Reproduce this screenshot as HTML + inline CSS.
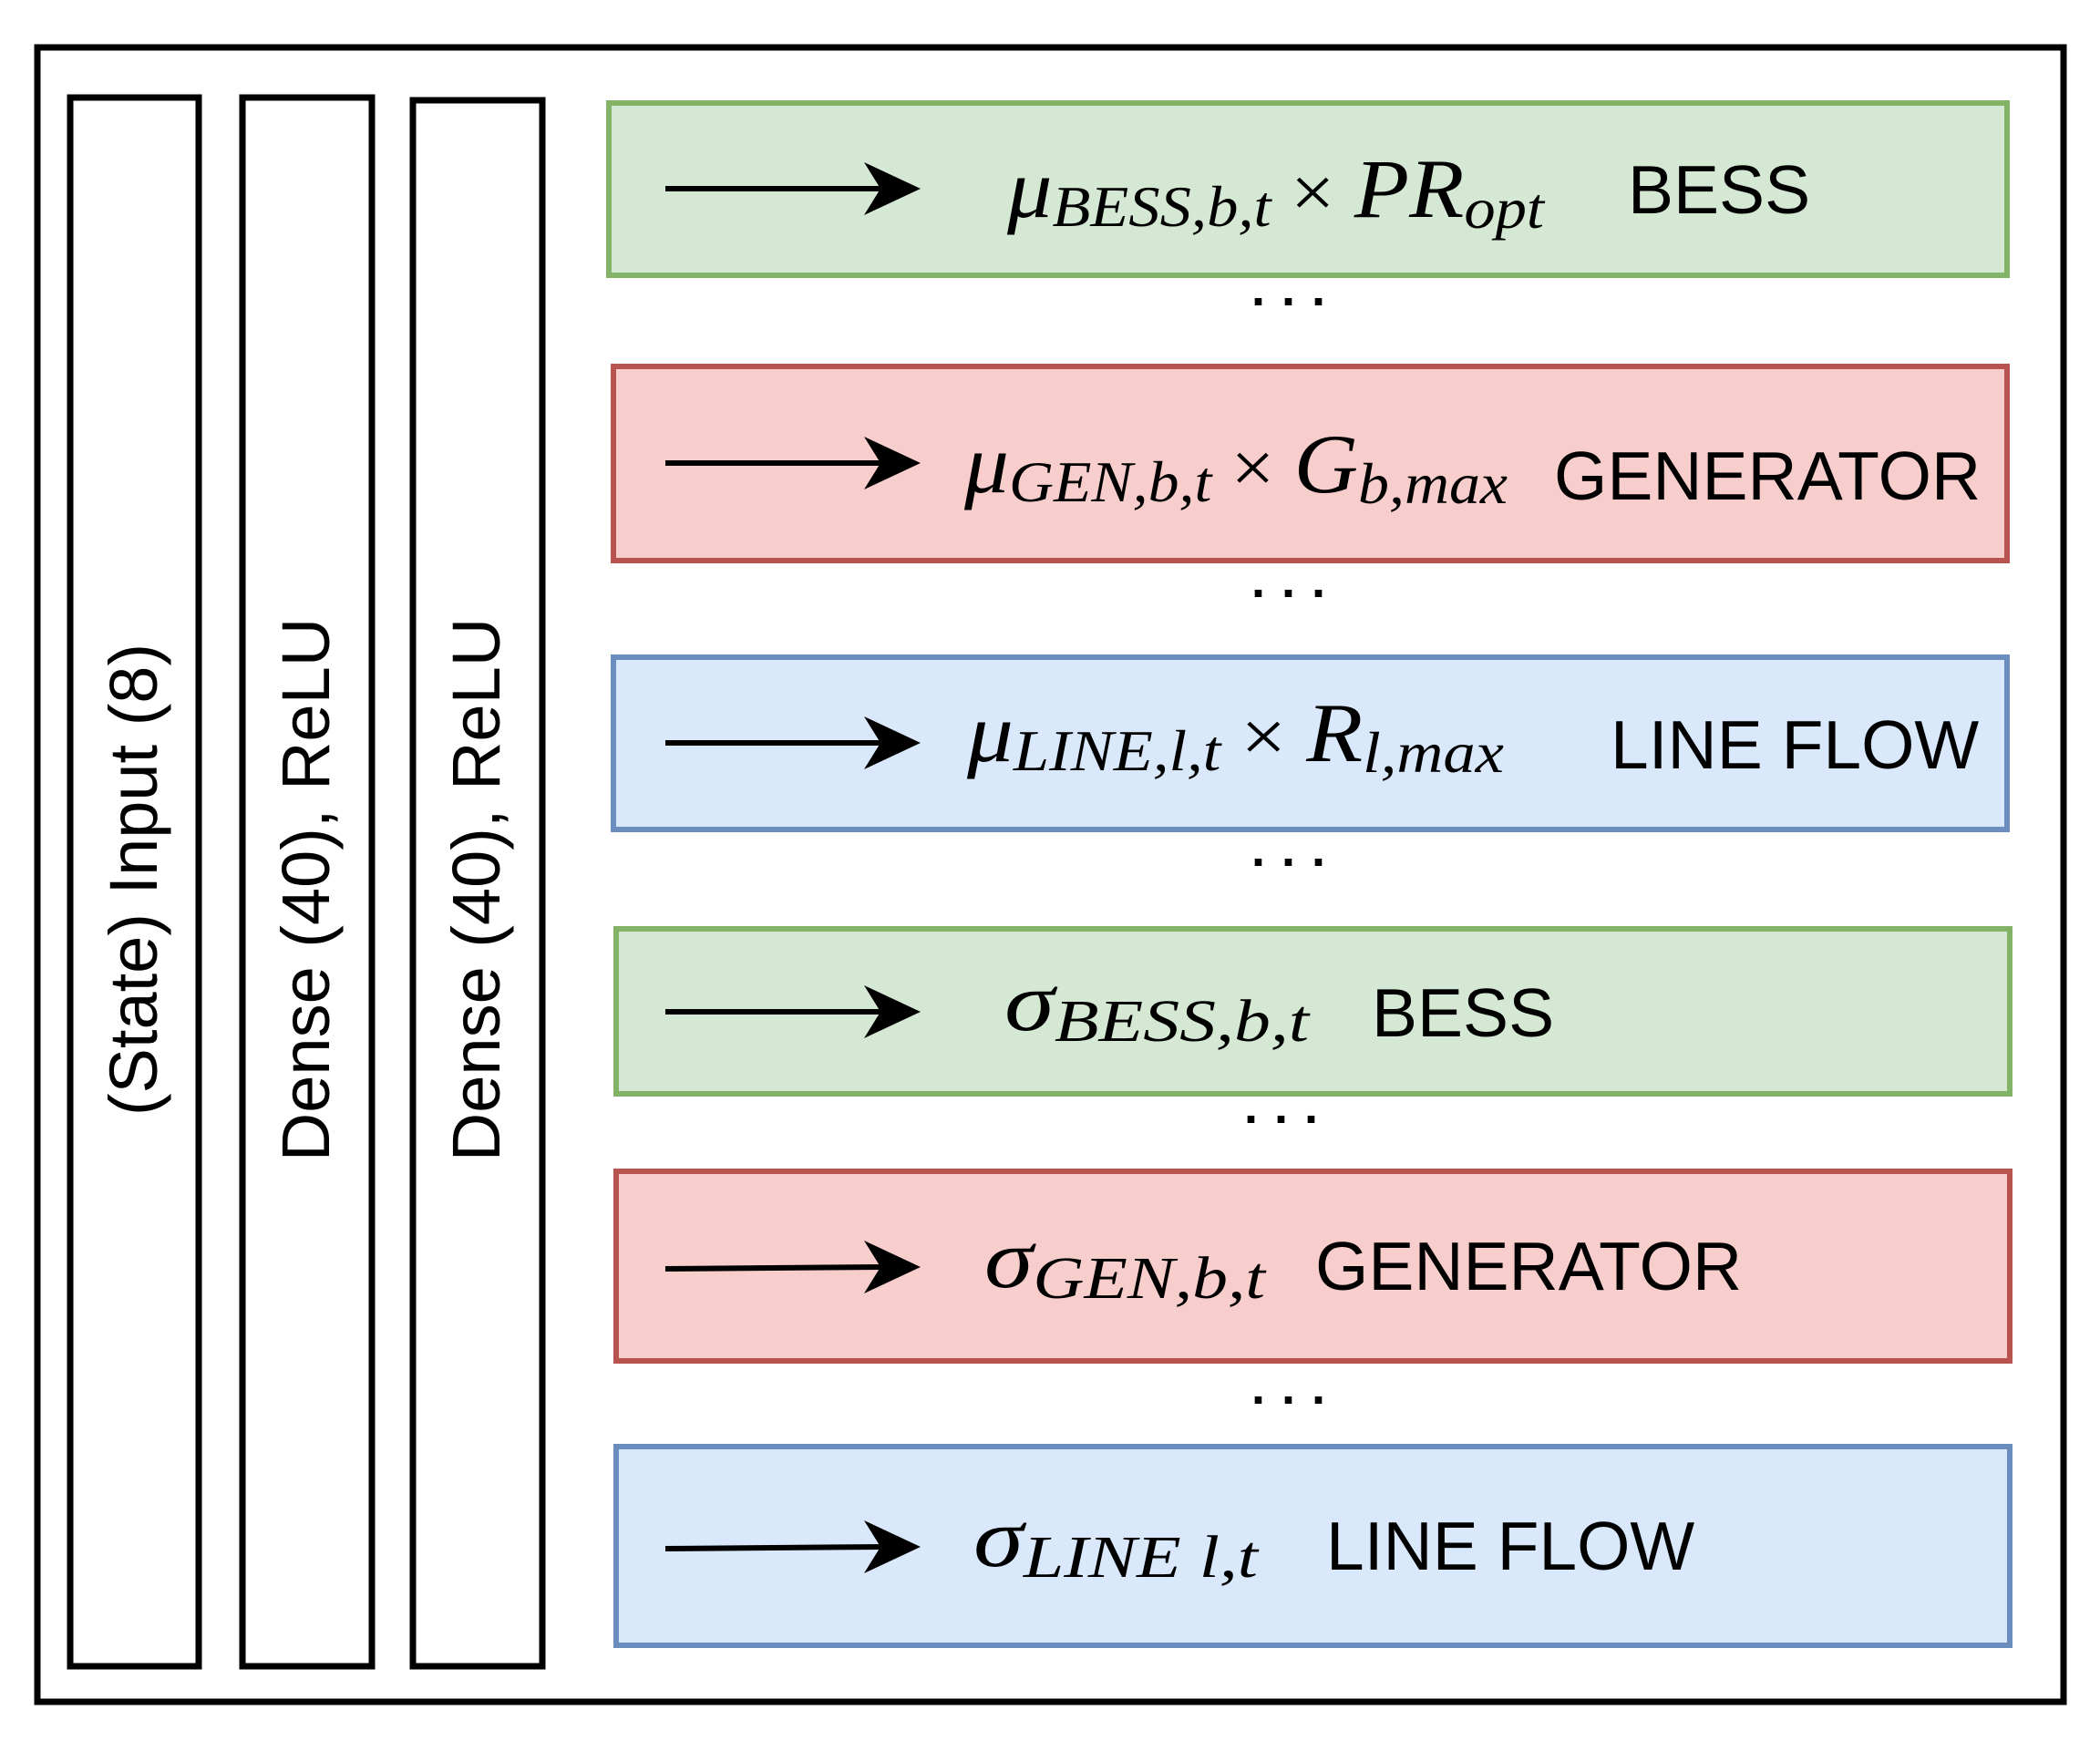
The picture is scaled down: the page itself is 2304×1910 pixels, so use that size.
<!DOCTYPE html>
<html><head><meta charset="utf-8"><style>html,body{margin:0;padding:0;background:#fff}svg{display:block}</style></head><body>
<svg width="2304" height="1910" viewBox="0 0 2304 1910" xmlns="http://www.w3.org/2000/svg">
<rect x="41" y="52" width="2223" height="1815" fill="#fff" stroke="#000" stroke-width="7"/>
<rect x="77" y="107" width="141" height="1721" fill="#fff" stroke="#000" stroke-width="7"/>
<rect x="266" y="107" width="142" height="1721" fill="#fff" stroke="#000" stroke-width="7"/>
<rect x="453" y="110" width="142" height="1718" fill="#fff" stroke="#000" stroke-width="7"/>
<g font-family="Liberation Sans, sans-serif" font-size="74" fill="#000" text-anchor="middle">
<text transform="translate(172,965) rotate(-90)">(State) Input (8)</text>
<text transform="translate(361,976) rotate(-90)">Dense (40), ReLU</text>
<text transform="translate(548,976) rotate(-90)">Dense (40), ReLU</text>
</g>
<g stroke-width="6">
<rect x="668" y="113" width="1534" height="189" fill="#d5e8d4" stroke="#82b366"/>
<rect x="673" y="402" width="1529" height="213" fill="#f8cecc" stroke="#b85450"/>
<rect x="673" y="721" width="1529" height="189" fill="#dae8fc" stroke="#6c8ebf"/>
<rect x="676" y="1019" width="1529" height="181" fill="#d5e8d4" stroke="#82b366"/>
<rect x="676" y="1285" width="1529" height="208" fill="#f8cecc" stroke="#b85450"/>
<rect x="676" y="1587" width="1529" height="218" fill="#dae8fc" stroke="#6c8ebf"/>
</g>
<g stroke="#000" stroke-width="6">
<line x1="730" y1="207" x2="970" y2="207"/>
<line x1="730" y1="508" x2="970" y2="508"/>
<line x1="730" y1="815" x2="970" y2="815"/>
<line x1="730" y1="1110" x2="970" y2="1110"/>
<line x1="730" y1="1392" x2="970" y2="1390"/>
<line x1="730" y1="1699" x2="970" y2="1697"/>
</g>
<g fill="#000">
<path d="M948,178 L1010,207 L948,236 L966,207Z"/>
<path d="M948,479 L1010,508 L948,537 L966,508Z"/>
<path d="M948,786 L1010,815 L948,844 L966,815Z"/>
<path d="M948,1081 L1010,1110 L948,1139 L966,1110Z"/>
<path d="M948,1361 L1010,1390 L948,1419 L966,1390Z"/>
<path d="M948,1668 L1010,1697 L948,1726 L966,1697Z"/>
</g>
<g font-family="Liberation Sans, sans-serif" font-size="54" font-weight="bold" fill="#000" letter-spacing="18">
<text x="1373" y="335">...</text>
<text x="1373" y="655">...</text>
<text x="1373" y="950">...</text>
<text x="1365" y="1232">...</text>
<text x="1373" y="1540">...</text>
</g>
<g font-family="Liberation Serif, serif" font-style="italic" font-size="92" fill="#000" lengthAdjust="spacingAndGlyphs">
<text x="1105" y="238" textLength="589" lengthAdjust="spacingAndGlyphs">μ<tspan font-size="64" dy="10">BESS,b,t</tspan><tspan dy="-10" font-style="normal" font-size="80"> × </tspan>PR<tspan font-size="64" dy="12">opt</tspan></text>
<text x="1058" y="540" textLength="596" lengthAdjust="spacingAndGlyphs">μ<tspan font-size="64" dy="10">GEN,b,t</tspan><tspan dy="-10" font-style="normal" font-size="80"> × </tspan>G<tspan font-size="64" dy="12">b,max</tspan></text>
<text x="1061" y="835" textLength="589" lengthAdjust="spacingAndGlyphs">μ<tspan font-size="64" dy="10">LINE,l,t</tspan><tspan dy="-10" font-style="normal" font-size="80"> × </tspan>R<tspan font-size="64" dy="12">l,max</tspan></text>
<text x="1102" y="1130" textLength="334" lengthAdjust="spacingAndGlyphs">σ<tspan font-size="66" dy="12">BESS,b,t</tspan></text>
<text x="1080" y="1412" textLength="308" lengthAdjust="spacingAndGlyphs">σ<tspan font-size="66" dy="12">GEN,b,t</tspan></text>
<text x="1068" y="1718" textLength="312" lengthAdjust="spacingAndGlyphs">σ<tspan font-size="66" dy="12">LINE l,t</tspan></text>
</g>
<g font-family="Liberation Sans, sans-serif" font-size="75" fill="#000">
<text x="1786" y="234">BESS</text>
<text x="1705" y="548">GENERATOR</text>
<text x="1767" y="843">LINE FLOW</text>
<text x="1505" y="1137">BESS</text>
<text x="1443" y="1415">GENERATOR</text>
<text x="1455" y="1722">LINE FLOW</text>
</g>
</svg>
</body></html>
